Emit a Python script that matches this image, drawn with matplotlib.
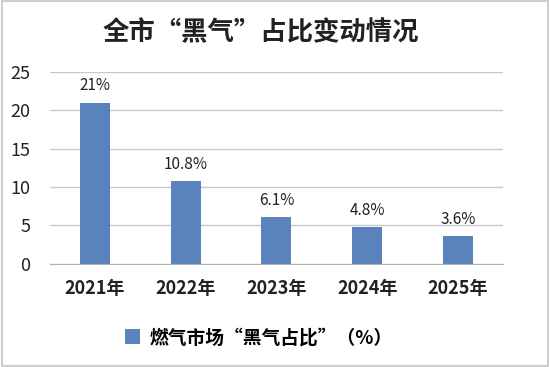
import matplotlib
matplotlib.use("Agg")
import matplotlib.pyplot as plt
from matplotlib.patches import Rectangle

plt.rcParams['font.family'] = ['Noto Sans CJK SC', 'DejaVu Sans']

years = ["2021年", "2022年", "2023年", "2024年", "2025年"]
shares = [21, 10.8, 6.1, 4.8, 3.6]
share_labels = ["21%", "10.8%", "6.1%", "4.8%", "3.6%"]
yticks = [0, 5, 10, 15, 20, 25]

fig = plt.figure(figsize=(5.5, 3.67), dpi=100)
ax = fig.add_axes([0.09, 0.281, 0.825, 0.523])

bars = ax.bar(range(len(years)), shares, width=0.33, color="#5a82bd",
              label="燃气市场“黑气占比”（%）", zorder=2)
for b, lab in zip(bars, share_labels):
    ax.text(b.get_x() + b.get_width() / 2, b.get_height() + 1.1, lab,
            ha="center", va="bottom", fontsize=11, color="#222222")

ax.set_ylim(0, 25)
ax.set_xlim(-0.5, len(years) - 0.5)
ax.set_yticks(yticks)
ax.set_yticklabels([str(t) for t in yticks], fontsize=13, color="#222222")
ax.set_xticks(range(len(years)))
ax.set_xticklabels(years, fontsize=13, fontweight="bold", color="#222222")
ax.tick_params(length=0)
ax.tick_params(axis="x", pad=11)
ax.tick_params(axis="y", pad=14)
ax.grid(axis="y", color="#c8c8c8", linewidth=1, zorder=0)
for s in ["top", "right", "left"]:
    ax.spines[s].set_visible(False)
ax.spines["bottom"].set_color("#b0b0b0")

fig.text(0.475, 0.91, "全市“黑气”占比变动情况", ha="center", va="center",
         fontsize=19, fontweight="bold", color="#222222")

fig.legend(loc="center", bbox_to_anchor=(0.47, 0.08), frameon=False,
           prop={"size": 13.5, "weight": "bold"}, handlelength=0.8,
           handleheight=0.8, handletextpad=0.5)

fig.add_artist(Rectangle((0.003, 0.004), 0.994, 0.992, transform=fig.transFigure,
                         fill=False, edgecolor="#cfcfcf", linewidth=1.5))

fig.savefig("out.png", dpi=100)
